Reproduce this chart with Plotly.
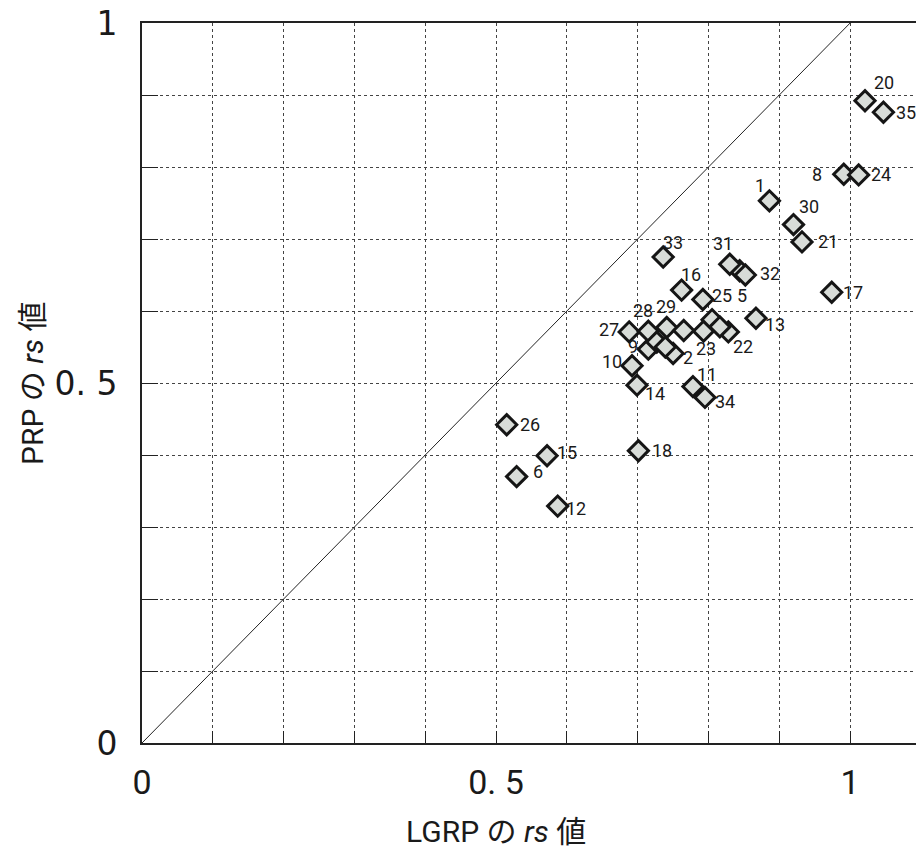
import plotly.graph_objects as go

# ---- data ----
labels = ["1", "2", "5", "6", "8", "9", "10", "11", "12", "13", "14", "15", "16", "17",
          "18", "20", "21", "22", "23", "24", "25", "26", "27", "28", "29", "30", "31",
          "32", "33", "34", "35", "", "", "", "", ""]
lgrp_rs = [0.886, 0.750, 0.844, 0.529, 0.991, 0.715, 0.692, 0.778, 0.587, 0.867, 0.699,
           0.572, 0.762, 0.974, 0.701, 1.021, 0.932, 0.828, 0.793, 1.012, 0.792, 0.515,
           0.688, 0.715, 0.741, 0.920, 0.830, 0.852, 0.736, 0.795, 1.047,
           0.765, 0.727, 0.739, 0.805, 0.816]
prp_rs = [0.753, 0.541, 0.656, 0.370, 0.790, 0.547, 0.524, 0.495, 0.329, 0.590, 0.497,
          0.399, 0.629, 0.626, 0.406, 0.892, 0.696, 0.571, 0.572, 0.789, 0.616, 0.442,
          0.571, 0.572, 0.577, 0.720, 0.665, 0.650, 0.675, 0.480, 0.876,
          0.573, 0.557, 0.550, 0.588, 0.578]

tick_vals = [0.0, 0.1, 0.2, 0.3, 0.4, 0.5, 0.6, 0.7, 0.8, 0.9, 1.0]
tick_text = ["0", "", "", "", "", "0. 5", "", "", "", "", "1"]
x_title = "LGRP の <i>rs</i> 値"
y_title = "PRP の <i>rs</i> 値"

# ---- label placement (pixel offsets, style only) ----
label_offsets = {
    "1": (-9, -15), "2": (15, 4), "5": (2, 25), "6": (21, -5), "8": (-27, 0),
    "9": (-15, -3), "10": (-20, -4), "11": (14, -12), "12": (18, 2), "13": (19, 6),
    "14": (18, 8), "15": (20, -3), "16": (9, -16), "17": (21, 0), "18": (24, 0),
    "20": (19, -18), "21": (26, 0), "22": (15, 15), "23": (2, 17), "24": (22, 0),
    "25": (19, -4), "26": (23, 0), "27": (-20, -2), "28": (-5, -21), "29": (-1, -21),
    "30": (16, -18), "31": (-7, -21), "32": (25, -2), "33": (10, -15), "34": (20, 4),
    "35": (23, 0),
}

fig = go.Figure()

# diagonal y = x
fig.add_trace(go.Scatter(x=[0, 1], y=[0, 1], mode="lines",
                         line=dict(color="#222222", width=1), hoverinfo="skip",
                         showlegend=False))

fig.add_trace(go.Scatter(
    x=lgrp_rs, y=prp_rs, mode="markers",
    marker=dict(symbol="diamond", size=15.5, color="#d8dcd8",
                line=dict(color="#151515", width=3)),
    showlegend=False, hoverinfo="x+y"))

label_font = dict(family="Roboto, sans-serif", size=18, color="#1a1a1a")
for lab, xv, yv in zip(labels, lgrp_rs, prp_rs):
    if not lab:
        continue
    dx, dy = label_offsets.get(lab, (20, 0))
    fig.add_annotation(x=xv, y=yv, text=lab, showarrow=False, xshift=dx, yshift=-dy,
                       font=label_font, xanchor="center", yanchor="middle")

title_font = dict(family="Roboto, Noto Sans CJK JP, sans-serif", size=30, color="#1a1a1a")
fig.add_annotation(x=0.5, y=0, xref="x", yref="paper", text=x_title, showarrow=False,
                   yshift=-88, font=title_font, xanchor="center", yanchor="middle")
fig.add_annotation(x=0, y=0.5, xref="paper", yref="y", text=y_title, showarrow=False,
                   xshift=-110, textangle=-90, font=title_font,
                   xanchor="center", yanchor="middle")

grid = dict(showgrid=True, gridcolor="#444444", gridwidth=1, griddash="3px,3px",
            zeroline=False)

fig.update_xaxes(range=[0, 1.093], tickvals=tick_vals, ticktext=tick_text,
                 ticks="inside", ticklen=12, tickwidth=1, tickcolor="#222",
                 showline=True, linecolor="#222", linewidth=2, mirror=True,
                 ticklabelstandoff=8,
                 tickfont=dict(family="Roboto, sans-serif", size=34, color="#1a1a1a"),
                 **grid)
fig.update_yaxes(range=[0, 1], tickvals=tick_vals, ticktext=tick_text,
                 ticks="inside", ticklen=16, tickwidth=1, tickcolor="#222",
                 showline=True, linecolor="#222", linewidth=2,
                 ticklabelstandoff=16,
                 tickfont=dict(family="DejaVu Sans, sans-serif", size=33, color="#1a1a1a"),
                 **grid)

fig.update_layout(width=916, height=858, margin=dict(l=142, r=0, t=23, b=115),
                  plot_bgcolor="white", paper_bgcolor="white")

fig.write_html("out.html")
